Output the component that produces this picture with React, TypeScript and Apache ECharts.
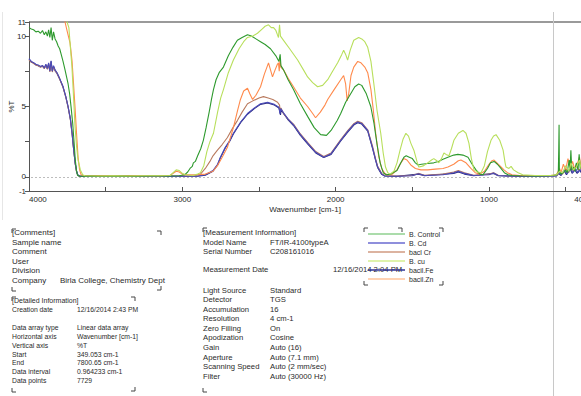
import React, { useEffect, useRef } from "react";
import * as echarts from "echarts";

const seriesNames = ["B. Control", "B. Cd", "bacl Cr", "B. cu", "bacil.Fe", "bacil.Zn"];
const seriesColors = ["#2e9a2e", "#4a4ab8", "#b97a5e", "#b8df5c", "#2a2a80", "#ff8a4c"];
const legendColors = ["#8fd08f", "#6a6ad0", "#d09a80", "#d5ef90", "#303090", "#ffc39a"];

const xTicks = [4000, 3500, 3000, 2500, 2000, 1500, 1000, 500];
const xLabels = [4000, 3000, 2000, 1000, 400];
const yTicks = [-1, 0, 2.5, 5, 7.5, 10, 11];
const yLabels = [-1, 0, 5, 10, 11];

const control: [number, number][] = [
[4000,10.6],[3985,10.5],[3970,10.45],[3955,10.3],[3940,10.35],[3925,10.2],[3912,10.4],[3900,10.1],[3890,10.3],[3880,10.0],[3872,10.45],[3864,9.9],[3856,10.6],[3848,9.7],[3840,10.3],[3830,9.8],[3820,9.6],[3810,9.3],[3800,9.1],[3790,8.7],[3778,8.2],[3765,7.6],[3755,7.1],[3745,6.6],[3735,5.9],[3725,4.9],[3715,3.8],[3705,2.3],[3698,1.2],[3690,0.45],[3684,0.12],[3670,0.05],[3600,0.06],[3500,0.05],[3400,0.06],[3300,0.05],[3200,0.07],[3100,0.06],[3020,0.08],[2985,0.15],[2965,0.35],[2950,0.6],[2935,0.75],[2928,1.0],[2915,1.1],[2900,1.5],[2880,2.0],[2863,2.6],[2845,3.5],[2825,4.6],[2810,5.5],[2797,6.2],[2780,6.9],[2760,7.4],[2732,7.8],[2700,8.6],[2670,9.2],[2641,9.7],[2610,9.9],[2575,10.1],[2550,10.0],[2520,9.8],[2490,9.6],[2460,9.4],[2425,9.1],[2390,8.6],[2370,8.2],[2362,8.7],[2357,7.9],[2340,7.6],[2310,6.9],[2275,6.2],[2230,5.2],[2183,4.3],[2140,3.5],[2098,3.0],[2060,2.95],[2030,3.3],[1990,4.0],[1967,4.5],[1935,5.3],[1902,5.9],[1875,6.4],[1850,6.6],[1830,6.5],[1800,5.9],[1771,5.0],[1750,3.8],[1730,2.3],[1710,1.0],[1690,0.3],[1670,0.15],[1640,0.2],[1600,0.45],[1575,1.0],[1555,1.4],[1540,1.5],[1520,1.4],[1500,1.3],[1480,1.0],[1464,0.85],[1440,0.9],[1400,0.95],[1360,1.0],[1330,1.1],[1300,1.25],[1268,1.4],[1230,1.55],[1203,1.6],[1170,1.55],[1137,1.4],[1110,0.9],[1085,0.5],[1060,0.2],[1040,0.15],[1010,0.6],[990,1.0],[967,1.1],[945,0.9],[922,0.6],[900,0.3],[876,0.15],[850,0.1],[800,0.08],[700,0.07],[620,0.08],[580,0.1],[560,0.15],[548,0.3],[545,2.0],[543,3.7],[541,0.4],[530,0.2],[510,0.35],[500,0.5],[490,0.3],[477,1.2],[472,0.4],[466,1.9],[460,0.5],[450,0.7],[440,0.4],[430,1.0],[420,0.5],[412,1.6],[405,0.6],[400,0.8]
];

const cd: [number, number][] = [
[4000,8.4],[3985,8.2],[3970,8.1],[3955,8.0],[3940,7.95],[3925,7.85],[3912,7.9],[3900,7.75],[3890,8.0],[3880,7.7],[3872,8.1],[3864,7.5],[3856,8.25],[3848,7.5],[3840,7.9],[3830,7.6],[3817,7.4],[3800,7.0],[3778,6.4],[3760,5.7],[3745,5.0],[3730,4.1],[3719,3.1],[3710,2.1],[3699,1.0],[3690,0.4],[3680,0.1],[3665,0.04],[3600,0.05],[3500,0.04],[3400,0.05],[3300,0.04],[3200,0.05],[3100,0.04],[3000,0.05],[2900,0.06],[2850,0.15],[2800,0.45],[2770,0.9],[2752,1.4],[2720,2.1],[2690,2.6],[2667,3.1],[2620,3.9],[2575,4.5],[2530,4.9],[2490,5.2],[2444,5.3],[2400,5.15],[2370,4.95],[2363,4.5],[2358,4.85],[2340,4.55],[2310,4.1],[2275,3.7],[2230,3.0],[2183,2.4],[2130,1.75],[2078,1.4],[2030,1.65],[1967,2.6],[1920,3.25],[1880,3.75],[1856,3.9],[1830,3.8],[1791,3.3],[1760,2.1],[1740,1.25],[1726,0.7],[1700,0.2],[1680,0.07],[1600,0.05],[1500,0.08],[1460,0.22],[1420,0.1],[1300,0.15],[1230,0.3],[1200,0.4],[1160,0.25],[1100,0.1],[1000,0.15],[970,0.28],[940,0.1],[800,0.05],[600,0.06],[560,0.08],[545,0.3],[530,0.15],[505,0.5],[490,0.2],[468,0.7],[455,0.3],[435,0.6],[420,0.3],[405,0.5],[400,0.4]
];

const cr: [number, number][] = [
[4000,8.3],[3985,8.15],[3970,8.05],[3955,7.95],[3940,7.9],[3925,7.8],[3912,7.85],[3900,7.7],[3890,7.95],[3880,7.65],[3872,8.0],[3864,7.45],[3856,8.1],[3848,7.45],[3840,7.8],[3830,7.55],[3817,7.35],[3800,6.95],[3778,6.35],[3760,5.65],[3745,4.95],[3730,4.05],[3719,3.05],[3710,2.05],[3699,0.95],[3690,0.35],[3680,0.08],[3665,0.04],[3600,0.05],[3500,0.06],[3400,0.05],[3300,0.06],[3200,0.05],[3100,0.06],[3000,0.07],[2920,0.08],[2882,0.2],[2850,0.6],[2820,1.1],[2800,1.5],[2771,1.9],[2740,2.3],[2706,2.8],[2670,3.5],[2641,4.0],[2610,4.6],[2575,5.2],[2540,5.4],[2500,5.6],[2471,5.7],[2440,5.6],[2410,5.5],[2379,5.3],[2366,5.1],[2362,4.7],[2357,4.9],[2340,4.5],[2310,4.1],[2275,3.75],[2230,3.05],[2183,2.45],[2130,1.8],[2078,1.45],[2030,1.7],[1967,2.65],[1920,3.3],[1880,3.8],[1856,3.95],[1830,3.85],[1791,3.35],[1760,2.2],[1740,1.3],[1726,0.75],[1700,0.25],[1680,0.1],[1600,0.07],[1500,0.1],[1460,0.25],[1420,0.12],[1300,0.2],[1230,0.35],[1200,0.45],[1160,0.3],[1100,0.12],[1000,0.2],[970,0.3],[940,0.12],[800,0.06],[600,0.08],[560,0.1],[540,0.3],[520,0.2],[500,0.6],[480,0.3],[465,0.8],[450,0.4],[430,0.9],[415,0.5],[400,0.6]
];

const cu: [number, number][] = [
[4000,14],[3780,12.5],[3765,11.8],[3752,11.0],[3740,10.6],[3730,9.2],[3720,7.8],[3710,5.8],[3700,3.6],[3690,2.2],[3680,1.2],[3665,0.5],[3650,0.15],[3635,0.08],[3550,0.07],[3450,0.08],[3350,0.07],[3250,0.08],[3150,0.08],[3080,0.1],[3060,0.3],[3040,0.5],[3020,0.45],[3000,0.25],[2980,0.15],[2930,0.1],[2900,0.2],[2882,0.3],[2860,0.8],[2840,1.8],[2820,2.5],[2797,3.1],[2770,4.6],[2750,5.6],[2732,6.2],[2700,7.4],[2667,8.3],[2630,9.1],[2600,9.6],[2575,9.9],[2540,10.0],[2510,10.2],[2480,10.5],[2460,10.7],[2438,10.8],[2420,10.6],[2405,10.6],[2390,10.4],[2380,10.1],[2373,9.9],[2366,10.8],[2360,10.0],[2340,9.7],[2300,9.1],[2248,8.3],[2210,7.6],[2183,7.1],[2150,6.7],[2118,6.4],[2085,6.5],[2052,6.9],[2020,7.5],[1987,8.1],[1960,8.7],[1948,9.0],[1935,8.7],[1922,8.3],[1905,9.0],[1882,9.7],[1850,9.9],[1830,9.8],[1810,9.6],[1791,9.2],[1770,8.2],[1752,6.7],[1730,4.7],[1706,3.1],[1690,1.7],[1675,0.7],[1660,0.3],[1645,0.2],[1620,0.4],[1600,1.0],[1580,1.9],[1560,2.7],[1542,3.1],[1525,2.9],[1510,2.4],[1490,1.9],[1470,1.1],[1458,0.7],[1440,0.75],[1425,0.8],[1400,1.0],[1375,1.2],[1360,1.3],[1340,1.15],[1327,1.0],[1310,1.3],[1294,1.7],[1280,1.6],[1261,1.5],[1245,2.0],[1229,2.6],[1200,3.1],[1170,3.3],[1150,3.1],[1131,2.4],[1115,1.3],[1098,0.5],[1075,0.35],[1052,0.3],[1030,0.8],[1010,1.8],[987,2.6],[970,2.9],[954,3.0],[930,2.6],[908,1.9],[895,1.0],[889,0.7],[870,0.6],[856,0.75],[840,0.5],[810,0.3],[780,0.15],[700,0.1],[600,0.1],[560,0.15],[540,0.4],[520,0.3],[500,0.8],[480,0.4],[465,1.0],[450,0.5],[430,0.7],[410,1.2],[400,0.6]
];

const fe: [number, number][] = [
[4000,8.35],[3985,8.15],[3970,8.1],[3955,7.95],[3940,7.9],[3925,7.8],[3912,7.9],[3900,7.7],[3890,7.95],[3880,7.65],[3872,8.05],[3864,7.55],[3856,8.2],[3848,7.55],[3840,7.85],[3830,7.55],[3817,7.35],[3800,6.95],[3778,6.4],[3760,5.7],[3745,4.95],[3730,4.1],[3719,3.1],[3710,2.1],[3699,1.0],[3690,0.4],[3680,0.1],[3665,0.04],[3600,0.04],[3400,0.05],[3200,0.04],[3000,0.05],[2900,0.05],[2850,0.12],[2800,0.4],[2770,0.85],[2752,1.35],[2720,2.05],[2690,2.55],[2667,3.05],[2620,3.85],[2575,4.45],[2530,4.85],[2490,5.15],[2444,5.25],[2400,5.1],[2370,4.9],[2360,4.4],[2355,4.75],[2340,4.5],[2310,4.05],[2275,3.65],[2230,2.95],[2183,2.35],[2130,1.7],[2078,1.38],[2030,1.6],[1967,2.55],[1920,3.2],[1880,3.7],[1856,3.85],[1830,3.75],[1791,3.25],[1760,2.05],[1740,1.2],[1726,0.65],[1700,0.18],[1680,0.06],[1600,0.04],[1460,0.2],[1420,0.08],[1230,0.25],[1200,0.35],[1160,0.2],[1100,0.08],[970,0.25],[940,0.08],[800,0.04],[560,0.06],[548,0.25],[530,0.1],[510,0.45],[495,0.15],[470,0.6],[458,0.25],[440,0.5],[425,0.25],[408,0.55],[400,0.3]
];

const zn: [number, number][] = [
[4000,14],[3790,12],[3770,11.2],[3765,11.0],[3750,10.3],[3732,9.5],[3719,8.2],[3710,6.7],[3699,4.8],[3690,3.1],[3680,1.4],[3670,0.5],[3660,0.15],[3645,0.08],[3550,0.09],[3450,0.08],[3350,0.09],[3250,0.08],[3150,0.09],[3080,0.1],[3060,0.25],[3040,0.4],[3020,0.35],[3000,0.2],[2970,0.15],[2900,0.15],[2850,0.2],[2800,0.4],[2771,0.8],[2740,1.4],[2706,2.1],[2667,3.5],[2640,4.7],[2621,5.5],[2600,6.1],[2575,6.3],[2560,5.9],[2542,5.5],[2520,5.8],[2490,6.4],[2465,7.3],[2438,8.1],[2425,7.6],[2412,7.1],[2395,7.6],[2380,8.0],[2373,8.1],[2368,7.5],[2363,8.4],[2358,7.8],[2340,7.6],[2310,7.0],[2275,6.4],[2230,5.6],[2183,5.0],[2150,4.5],[2131,4.2],[2100,4.6],[2070,5.1],[2052,5.5],[2010,6.2],[1967,6.9],[1948,7.2],[1935,6.6],[1925,5.4],[1915,5.9],[1900,7.2],[1882,7.8],[1856,8.2],[1835,8.1],[1810,7.8],[1791,7.4],[1770,6.2],[1755,4.8],[1739,3.1],[1720,1.5],[1700,0.6],[1680,0.25],[1660,0.15],[1630,0.2],[1600,0.5],[1580,0.9],[1556,1.3],[1535,1.2],[1510,0.85],[1480,0.6],[1444,0.5],[1400,0.5],[1350,0.55],[1300,0.6],[1268,0.7],[1230,0.9],[1200,1.15],[1183,1.2],[1150,1.0],[1118,0.6],[1090,0.3],[1060,0.2],[1030,0.4],[1000,0.9],[980,1.15],[967,1.2],[940,0.9],[902,0.5],[880,0.3],[850,0.15],[800,0.1],[600,0.1],[560,0.15],[540,0.6],[530,0.3],[515,0.9],[500,0.5],[485,1.3],[470,0.6],[455,1.1],[440,0.5],[425,0.9],[410,1.4],[400,0.7]
];

const seriesData = [control, cd, cr, cu, fe, zn];
const drawOrder = [4, 2, 1, 5, 0, 3];

const commentRows: [string, string][] = [
  ["Sample name", ""],
  ["Comment", ""],
  ["User", ""],
  ["Division", ""],
  ["Company", "Birla College, Chemistry Dept"],
];
const detailRows: [string, string][] = [
  ["Creation date", "12/16/2014 2:43 PM"],
  ["Data array type", "Linear data array"],
  ["Horizontal axis", "Wavenumber [cm-1]"],
  ["Vertical axis", "%T"],
  ["Start", "349.053 cm-1"],
  ["End", "7800.65 cm-1"],
  ["Data interval", "0.964233 cm-1"],
  ["Data points", "7729"],
];
const measRows: [string, string][] = [
  ["Model Name", "FT/IR-4100typeA"],
  ["Serial Number", "C208161016"],
  ["Measurement Date", "12/16/2014 2:04 PM"],
  ["Light Source", "Standard"],
  ["Detector", "TGS"],
  ["Accumulation", "16"],
  ["Resolution", "4 cm-1"],
  ["Zero Filling", "On"],
  ["Apodization", "Cosine"],
  ["Gain", "Auto (16)"],
  ["Aperture", "Auto (7.1 mm)"],
  ["Scanning Speed", "Auto (2 mm/sec)"],
  ["Filter", "Auto (30000 Hz)"],
];

const FONT = "'Liberation Sans', Arial, sans-serif";
const TXT = "#2a2a2a";

function txt(x: number, y: number, text: string, size: number) {
  return {
    type: "text",
    x,
    y,
    silent: true,
    style: { text, fill: TXT, font: `${size}px ${FONT}`, textVerticalAlign: "middle", verticalAlign: "middle" },
  };
}

function corner(x: number, y: number, kind: string) {
  const s = 4;
  let pts: number[][] = [];
  if (kind === "tl") pts = [[x, y + s], [x, y], [x + s, y]];
  if (kind === "tr") pts = [[x - s, y], [x, y], [x, y + s]];
  if (kind === "bl") pts = [[x, y - s], [x, y], [x + s, y]];
  if (kind === "br") pts = [[x - s, y], [x, y], [x, y - s]];
  return { type: "polyline", silent: true, shape: { points: pts }, style: { stroke: "#444", lineWidth: 1, fill: null } };
}

export default function App() {
  const ref = useRef<HTMLDivElement>(null);
  useEffect(() => {
    document.body.style.margin = "0";
    if (!ref.current) return;
    const chart = echarts.init(ref.current, null, { renderer: "svg" });

    const graphics: any[] = [];
    graphics.push({ type: "line", silent: true, shape: { x1: 29, y1: 22, x2: 581, y2: 22 }, style: { stroke: "#9a9a9a", lineWidth: 2 } });
    graphics.push({ type: "line", silent: true, shape: { x1: 553.5, y1: 12, x2: 553.5, y2: 396 }, style: { stroke: "#c8c8c8", lineWidth: 1 } });
    graphics.push({ type: "line", silent: true, shape: { x1: 2.5, y1: 12, x2: 2.5, y2: 220 }, style: { stroke: "#e6e6e6", lineWidth: 1 } });

    graphics.push(txt(12, 232.7, "[Comments]", 8));
    const cY = [242, 251.6, 261.1, 270.7, 280.7];
    commentRows.forEach((r, i) => {
      graphics.push(txt(12, cY[i], r[0], 8));
      if (r[1]) graphics.push(txt(60, cY[i], r[1], 8));
    });
    graphics.push(corner(12, 229, "tl"), corner(161, 231, "tr"), corner(12, 291, "bl"), corner(161, 290, "br"));

    graphics.push(txt(12, 300, "[Detailed Information]", 7));
    const dY = [309, 327.3, 336.2, 345.2, 354, 362.8, 371.8, 380.7];
    detailRows.forEach((r, i) => {
      graphics.push(txt(12, dY[i], r[0], 6.8));
      graphics.push(txt(77, dY[i], r[1], 6.8));
    });
    graphics.push(corner(12, 297, "tl"), corner(135, 297, "tr"), corner(12, 392, "bl"), corner(135, 391, "br"));

    graphics.push(txt(203, 232.7, "[Measurement Information]", 7.8));
    const mY = [242, 251.7, 269, 290.5, 299.5, 309, 318.5, 328, 337.5, 347, 357, 366.5, 376];
    measRows.forEach((r, i) => {
      graphics.push(txt(203, mY[i], r[0], 7.7));
      graphics.push(txt(i === 2 ? 333 : 270, mY[i], r[1], 7.7));
    });
    graphics.push(corner(203, 228, "tl"), corner(203, 392, "bl"));

    graphics.push(corner(364, 228, "tl"), corner(402, 228, "tr"), corner(443, 228, "tr"), corner(364, 285, "bl"), corner(443, 285, "br"));

    const series: any[] = drawOrder.map((idx) => ({
      name: seriesNames[idx],
      type: "line",
      data: seriesData[idx],
      showSymbol: false,
      symbol: "none",
      clip: true,
      lineStyle: { width: 1.1, color: seriesColors[idx] },
      itemStyle: { color: seriesColors[idx] },
      z: 3,
    }));
    series[0].markLine = {
      silent: true,
      symbol: "none",
      label: { show: false },
      lineStyle: { color: "#bdbdbd", type: [2, 2], width: 1 },
      data: [{ yAxis: 0 }],
      z: 1,
    };

    chart.setOption({
      animation: false,
      backgroundColor: "#ffffff",
      textStyle: { fontFamily: FONT },
      grid: { left: 29, right: 0, top: 22, height: 169, containLabel: false, outerBoundsMode: "none" },
      legend: {
        orient: "vertical",
        left: 368,
        top: 229.5,
        padding: 0,
        itemGap: 0,
        itemWidth: 37,
        itemHeight: 1.5,
        icon: "rect",
        selectedMode: false,
        textStyle: { fontSize: 7, color: TXT, lineHeight: 9, padding: [0, 0, 0, -1] },
        data: seriesNames.map((n, i) => ({ name: n, itemStyle: { color: legendColors[i] } })),
      },
      xAxis: {
        type: "value",
        min: 400,
        max: 4000,
        inverse: true,
        name: "Wavenumber [cm-1]",
        nameLocation: "middle",
        nameGap: 14,
        nameMoveOverlap: false,
        nameTextStyle: { fontSize: 8, color: TXT },
        axisLine: { onZero: false, lineStyle: { color: "#555", width: 1 } },
        axisTick: { show: true, inside: true, length: 4, customValues: xTicks, lineStyle: { color: "#555" } },
        axisLabel: { customValues: xLabels, fontSize: 8, color: TXT, margin: 4, alignMinLabel: "left", formatter: (v: number) => String(v) },
        splitLine: { show: false },
      },
      yAxis: {
        type: "value",
        min: -1,
        max: 11,
        interval: 1,
        name: "%T",
        nameLocation: "middle",
        nameGap: 14,
        nameMoveOverlap: false,
        nameTextStyle: { fontSize: 8, color: TXT },
        axisLine: { show: true, lineStyle: { color: "#555", width: 1 } },
        axisTick: { show: true, inside: false, length: 4, customValues: yTicks, lineStyle: { color: "#555" } },
        axisLabel: { customValues: yLabels, fontSize: 8, color: TXT, margin: 3, formatter: (v: number) => String(v) },
        splitLine: { show: false },
      },
      graphic: graphics,
      series,
    });
    return () => chart.dispose();
  }, []);
  return <div ref={ref} style={{ width: 581, height: 396 }} />;
}
